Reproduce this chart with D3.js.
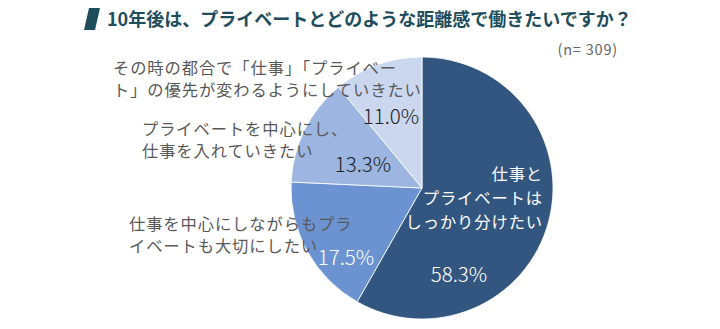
<!DOCTYPE html>
<html>
<head>
<meta charset="utf-8">
<script src="https://cdn.jsdelivr.net/npm/d3@7"></script>
<style>
  html, body { margin: 0; padding: 0; background: #ffffff; }
  svg { display: block; font-family: "Noto Sans CJK JP", "Noto Sans", sans-serif; }
</style>
</head>
<body>
<svg id="chart" width="720" height="329"></svg>
<script>
// ---- data ----
const categories = [
  "仕事とプライベートはしっかり分けたい",
  "仕事を中心にしながらもプライベートも大切にしたい",
  "プライベートを中心にし、仕事を入れていきたい",
  "その時の都合で「仕事」「プライベート」の優先が変わるようにしていきたい"
];
const values = [58.3, 17.5, 13.3, 11.0];
const valueLabels = ["58.3%", "17.5%", "13.3%", "11.0%"];
const labelLines = [
  ["仕事と", "プライベートは", "しっかり分けたい"],
  ["仕事を中心にしながらもプラ", "イベートも大切にしたい"],
  ["プライベートを中心にし、", "仕事を入れていきたい"],
  ["その時の都合で「仕事」「プライベー", "ト」の優先が変わるようにしていきたい"]
];
const titleText = "10年後は、プライベートとどのような距離感で働きたいですか？";
const sampleText = "(n= 309)";

// ---- styling ----
const colors = ["#335680", "#6b93d1", "#9cb6e1", "#cad7ef"];
const pctColors = ["#ffffff", "#ffffff", "#222222", "#222222"];
const cx = 422, cy = 188, r = 131;

const svg = d3.select("#chart");

// title
svg.append("path")
  .attr("d", "M89,8 L100,8 L95,30 L84,30 Z")
  .attr("fill", "#1e4d5c");
svg.append("text")
  .attr("x", 107).attr("y", 26)
  .attr("font-size", 18).attr("font-weight", 700)
  .attr("fill", "#1e4d5c")
  .text(titleText);

svg.append("text")
  .attr("x", 618).attr("y", 55)
  .attr("text-anchor", "end")
  .attr("font-size", 14.5).attr("fill", "#666666")
  .attr("letter-spacing", 0.8)
  .text(sampleText);

// pie
const pie = d3.pie().sort(null).value(d => d)(values);
const arc = d3.arc().innerRadius(0).outerRadius(r);
const g = svg.append("g").attr("transform", `translate(${cx},${cy})`);
g.selectAll("path.slice")
  .data(pie)
  .join("path")
  .attr("class", "slice")
  .attr("d", arc)
  .attr("fill", (d, i) => colors[i])
  .attr("stroke", "#ffffff")
  .attr("stroke-width", 0.8);

// percentage labels
const pctOffsets = [[37, 94], [-76, 77], [-59, -16], [-31, -64]];
g.selectAll("text.pct")
  .data(pie)
  .join("text")
  .attr("class", "pct")
  .attr("x", (d, i) => pctOffsets[i][0])
  .attr("y", (d, i) => pctOffsets[i][1])
  .attr("text-anchor", "middle")
  .attr("font-size", 20.5).attr("font-weight", 300)
  .attr("fill", (d, i) => pctColors[i])
  .text((d, i) => valueLabels[i]);

// category labels
const labelSpecs = [
  {x: 543, y: 180, anchor: "end", fill: "#ffffff", lh: 24},
  {x: 129, y: 230, anchor: "start", fill: "#595959", lh: 22},
  {x: 142, y: 135, anchor: "start", fill: "#595959", lh: 22},
  {x: 113, y: 74, anchor: "start", fill: "#595959", lh: 22}
];
labelLines.forEach((lines, i) => {
  const s = labelSpecs[i];
  const t = svg.append("text")
    .attr("font-size", 16.3)
    .attr("letter-spacing", 0.9)
    .attr("fill", s.fill)
    .attr("text-anchor", s.anchor);
  lines.forEach((ln, j) => {
    t.append("tspan").attr("x", s.x).attr("y", s.y + j * s.lh).text(ln);
  });
});
</script>
</body>
</html>
